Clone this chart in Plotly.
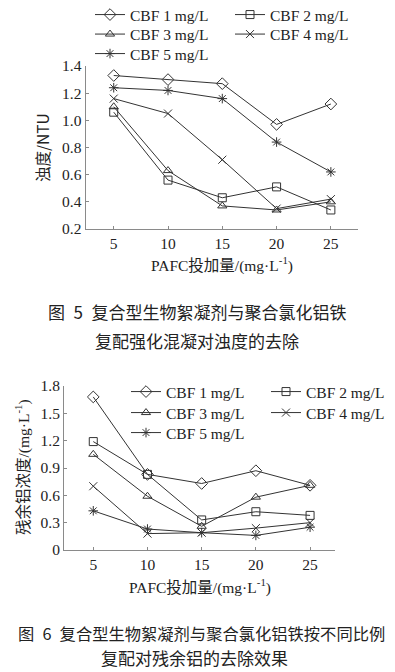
import plotly.graph_objects as go

# ---- data ----
pafc_dose = [5, 10, 15, 20, 25]
series_names = ["CBF 1 mg/L", "CBF 2 mg/L", "CBF 3 mg/L", "CBF 4 mg/L", "CBF 5 mg/L"]

turbidity_cbf1 = [1.33, 1.30, 1.27, 0.97, 1.12]
turbidity_cbf2 = [1.06, 0.56, 0.43, 0.51, 0.34]
turbidity_cbf3 = [1.10, 0.63, 0.37, 0.34, 0.40]
turbidity_cbf4 = [1.16, 1.05, 0.71, 0.35, 0.42]
turbidity_cbf5 = [1.24, 1.22, 1.16, 0.84, 0.62]

al_cbf1 = [1.68, 0.83, 0.73, 0.87, 0.71]
al_cbf2 = [1.19, 0.83, 0.33, 0.42, 0.38]
al_cbf3 = [1.05, 0.59, 0.26, 0.58, 0.71]
al_cbf4 = [0.70, 0.18, 0.19, 0.24, 0.30]
al_cbf5 = [0.43, 0.23, 0.19, 0.16, 0.25]

turbidity_ticks = [0.2, 0.4, 0.6, 0.8, 1.0, 1.2, 1.4]
al_ticks = [0, 0.3, 0.6, 0.9, 1.2, 1.5, 1.8]
al_ticklabels = ["0", "0.3", "0.6", "0.9", "1.2", "1.5", "1.8"]

# ---- style ----
OFF = 8  # page body margin: the figure is drawn 8 px in from the window edges
W, H = 395 - OFF, 672 - OFF
LINE = "#333333"
AXIS = "#8a8a8a"
TXT = "#222222"
FONT = "Liberation Serif, Noto Sans CJK SC"
CJK = "Noto Sans CJK SC, Liberation Serif"
FS = 15.5
symbols = ["diamond-open", "square-open", "triangle-up-open", "x-thin-open", "asterisk-open"]
msizes = [9, 8, 8, 8, 8]
# legend row each series sits in (two entries per row)
row_of = [0, 0, 1, 1, 2]


def py(p):
    return 1 - (p - OFF) / H


def px(p):
    return (p - OFF) / W


fig = go.Figure()

top_sets = [turbidity_cbf1, turbidity_cbf2, turbidity_cbf3, turbidity_cbf4, turbidity_cbf5]
bot_sets = [al_cbf1, al_cbf2, al_cbf3, al_cbf4, al_cbf5]

top_legends = ["legend", "legend2", "legend3"]
bot_legends = ["legend4", "legend5", "legend6"]

for i, (name, vals) in enumerate(zip(series_names, top_sets)):
    fig.add_trace(go.Scatter(
        x=pafc_dose, y=vals, name=name, mode="lines+markers",
        line=dict(color=LINE, width=1),
        marker=dict(symbol=symbols[i], size=msizes[i], color=LINE,
                    line=dict(color=LINE, width=1)),
        xaxis="x", yaxis="y", legend=top_legends[row_of[i]]))

for i, (name, vals) in enumerate(zip(series_names, bot_sets)):
    fig.add_trace(go.Scatter(
        x=pafc_dose, y=vals, name=name, mode="lines+markers",
        line=dict(color=LINE, width=1),
        marker=dict(symbol=symbols[i], size=msizes[i], color=LINE,
                    line=dict(color=LINE, width=1)),
        xaxis="x2", yaxis="y2", legend=bot_legends[row_of[i]]))

axis_common = dict(
    showline=True, linecolor=AXIS, linewidth=1,
    ticks="inside", ticklen=3, tickcolor=AXIS, tickwidth=1,
    showgrid=False, zeroline=False,
    tickfont=dict(family=FONT, size=FS, color=TXT),
)

legend_common = dict(
    orientation="h", entrywidth=95, entrywidthmode="pixels",
    font=dict(family=FONT, size=FS, color=TXT),
    bgcolor="rgba(0,0,0,0)", xanchor="left", yanchor="middle",
    itemwidth=30, traceorder="normal",
)

LEG_TOP_X, LEG_BOT_X = 90, 126
LEG_TOP_ROWS = [15, 34.5, 54]
LEG_BOT_ROWS = [392, 413, 433]

layout_legends = {}
for k, r in enumerate(LEG_TOP_ROWS):
    layout_legends[top_legends[k]] = dict(x=px(LEG_TOP_X), y=py(r), **legend_common)
for k, r in enumerate(LEG_BOT_ROWS):
    layout_legends[bot_legends[k]] = dict(x=px(LEG_BOT_X), y=py(r), **legend_common)

fig.update_layout(
    width=W, height=H,
    margin=dict(l=0, r=0, t=0, b=0, autoexpand=False),
    paper_bgcolor="white", plot_bgcolor="white",
    showlegend=True,
    xaxis=dict(domain=[px(85.5), px(358)], range=[2.4, 27.5],
               tickvals=pafc_dose, anchor="y", **axis_common),
    yaxis=dict(domain=[py(229), py(66)], range=[0.2, 1.4],
               tickvals=turbidity_ticks, tickformat=".1f", anchor="x", **axis_common),
    xaxis2=dict(domain=[px(64), px(335)], range=[2.3, 27.3],
                tickvals=pafc_dose, anchor="y2", **axis_common),
    yaxis2=dict(domain=[py(550), py(386)], range=[0, 1.8],
                tickvals=al_ticks, ticktext=al_ticklabels, anchor="x2", **axis_common),
    **layout_legends,
)

ann = []
# axis titles
ann.append(dict(text="浊度/NTU", x=px(42), y=py(148), textangle=-90,
                font=dict(family=CJK, size=FS, color=TXT)))
ann.append(dict(text="PAFC投加量/(mg·L<sup>-1</sup>)", x=px(222), y=py(265),
                font=dict(family=FONT, size=FS, color=TXT)))
ann.append(dict(text="残余铝浓度/(mg·L<sup>-1</sup>)", x=px(22), y=py(467), textangle=-90,
                font=dict(family=FONT, size=FS, color=TXT)))
ann.append(dict(text="PAFC投加量/(mg·L<sup>-1</sup>)", x=px(200), y=py(586),
                font=dict(family=FONT, size=FS, color=TXT)))
# captions
ann.append(dict(text="图\u20025\u2002复合型生物絮凝剂与聚合氯化铝铁", x=px(197), y=py(312),
                font=dict(family=CJK, size=17, color=TXT)))
ann.append(dict(text="复配强化混凝对浊度的去除", x=px(197), y=py(340),
                font=dict(family=CJK, size=17, color=TXT)))
ann.append(dict(text="图\u20026\u2002复合型生物絮凝剂与聚合氯化铝铁按不同比例", x=px(201), y=py(633),
                font=dict(family=CJK, size=16.3, color=TXT)))
ann.append(dict(text="复配对残余铝的去除效果", x=px(194), y=py(657),
                font=dict(family=CJK, size=17, color=TXT)))

for a in ann:
    a.update(xref="paper", yref="paper", showarrow=False, xanchor="center", yanchor="middle")
fig.update_layout(annotations=ann)

fig.write_html("out.html")
